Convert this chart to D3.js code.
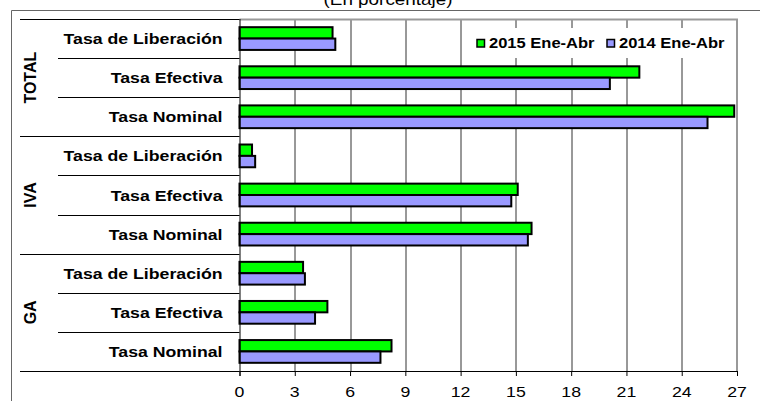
<!DOCTYPE html>
<html>
<head>
<meta charset="utf-8">
<script src="https://cdn.jsdelivr.net/npm/d3@7"></script>
<style>
  body { margin: 0; background: #fff; }
  svg { display: block; font-family: "Liberation Sans", Arial, sans-serif; }
</style>
</head>
<body>
<svg width="760" height="401"></svg>
<script>
// data
var groups = ["TOTAL", "IVA", "GA"];
var rates = ["Tasa de Liberación", "Tasa Efectiva", "Tasa Nominal"];
var seriesNames = ["2015 Ene-Abr", "2014 Ene-Abr"];
var values2015 = [5.05, 21.7, 26.85, 0.68, 15.1, 15.85, 3.45, 4.77, 8.25];
var values2014 = [5.2, 20.1, 25.4, 0.85, 14.75, 15.65, 3.55, 4.1, 7.65];
var xTicks = [0, 3, 6, 9, 12, 15, 18, 21, 24, 27];
var title = "(En porcentaje)";

var colors = ["#00ff00", "#9999ff"];
var stretch = 1.18; // text in the picture is drawn a bit wide

var svg = d3.select("svg"),
    margin = {top: 19, left: 239.5, right: 23, bottom: 30},
    width = 760 - margin.left - margin.right,
    height = 401 - margin.top - margin.bottom;

var rows = [];
groups.forEach(function(g, gi) {
  rates.forEach(function(r, ri) {
    var i = gi * rates.length + ri;
    rows.push({id: g + "|" + r, group: g, rate: r, first: ri === 0, v: [values2015[i], values2014[i]]});
  });
});

var x = d3.scaleLinear().domain([0, 27]).range([0, width]);
var y = d3.scaleBand().domain(rows.map(function(d) { return d.id; })).range([0, height]);
var y1 = d3.scaleBand().domain([0, 1]).range([0, y.bandwidth()]).paddingInner(0).paddingOuter(0.72);

function wideText(sel, px, py, size, weight, anchor, txt) {
  return sel.append("text")
      .attr("transform", "translate(" + px + "," + py + ") scale(" + stretch + ",1)")
      .attr("text-anchor", anchor)
      .style("font-size", size + "px")
      .style("font-weight", weight)
      .attr("fill", "#000")
      .text(txt);
}

// outer frame
svg.append("path")
    .attr("d", "M11.5,401V10.5H760")
    .attr("fill", "none")
    .attr("stroke", "#666")
    .attr("stroke-width", 1);

// title, partly cut off at the top
wideText(svg, 388, 5, 16, "normal", "middle", title);

var g = svg.append("g")
    .attr("transform", "translate(" + margin.left + "," + margin.top + ")");

// grid lines
g.selectAll(".grid")
  .data(xTicks.filter(function(d) { return d > 0 && d < 27; }))
  .enter().append("line")
    .attr("class", "grid")
    .attr("x1", function(d) { return Math.round(x(d)) + 0.5; })
    .attr("x2", function(d) { return Math.round(x(d)) + 0.5; })
    .attr("y1", 0)
    .attr("y2", height)
    .attr("stroke", "#333")
    .attr("stroke-width", 1);

// plot border top/right
g.append("path")
    .attr("d", "M0,0.5H" + x(27) + "V" + height)
    .attr("fill", "none")
    .attr("stroke", "#999")
    .attr("stroke-width", 2);

// legend background
var legend = g.append("g").attr("transform", "translate(" + (470 - margin.left) + "," + (28 - margin.top) + ")");
legend.append("rect")
    .attr("width", 263)
    .attr("height", 30)
    .attr("fill", "#fff");
var legX = [7, 137];
seriesNames.forEach(function(name, i) {
  legend.append("rect")
      .attr("x", legX[i])
      .attr("y", 11.5)
      .attr("width", 7.5)
      .attr("height", 7.5)
      .attr("fill", colors[i])
      .attr("stroke", "#000")
      .attr("stroke-width", 1.5);
  wideText(legend, legX[i] + 12, 20, 14, "bold", "start", name);
});

// bars
var rowG = g.selectAll(".row")
  .data(rows)
  .enter().append("g")
    .attr("class", "row")
    .attr("transform", function(d) { return "translate(0," + y(d.id) + ")"; });

rowG.selectAll("rect")
  .data(function(d) { return d.v; })
  .enter().append("rect")
    .attr("x", 0)
    .attr("y", function(d, i) { return y1(i); })
    .attr("width", function(d) { return x(d); })
    .attr("height", y1.bandwidth())
    .attr("fill", function(d, i) { return colors[i]; })
    .attr("stroke", "#000")
    .attr("stroke-width", 2);

// category separator lines in label area
var seps = rows.map(function(d) { return {y: y(d.id), major: d.first}; });
seps.push({y: height, major: true});
g.selectAll(".sep")
  .data(seps)
  .enter().append("line")
    .attr("class", "sep")
    .attr("x1", function(d) { return (d.major ? 20 : 58) - margin.left; })
    .attr("x2", 0)
    .attr("y1", function(d) { return Math.round(d.y) + 0.5; })
    .attr("y2", function(d) { return Math.round(d.y) + 0.5; })
    .attr("stroke", "#000")
    .attr("stroke-width", 1);

// rate labels
rows.forEach(function(d) {
  wideText(g, -17, y(d.id) + y.bandwidth() / 2 + 5.5, 15, "bold", "end", d.rate);
});

// group labels
groups.forEach(function(gr, gi) {
  var cy = y(gr + "|" + rates[0]) + y.bandwidth() * 1.5;
  g.append("text")
      .attr("transform", "translate(" + (30.5 - margin.left + 5.5) + "," + cy + ") rotate(-90)")
      .attr("text-anchor", "middle")
      .style("font-size", "16px")
      .style("font-weight", "bold")
      .text(gr);
});

// x axis
var xAxis = g.append("g")
    .attr("transform", "translate(0," + height + ")")
    .call(d3.axisBottom(x).tickValues(xTicks).tickSize(5).tickFormat(""));
xAxis.select(".domain").attr("stroke", "#000").attr("d", "M0,0.5H" + x(27));
xAxis.selectAll(".tick line").attr("stroke", "#000");
xTicks.forEach(function(t) {
  wideText(g, x(t), height + 26, 15, "normal", "middle", t);
});

// y axis line
g.append("line")
    .attr("x1", 0.5).attr("x2", 0.5)
    .attr("y1", 0).attr("y2", height + 5)
    .attr("stroke", "#000");
</script>
</body>
</html>
